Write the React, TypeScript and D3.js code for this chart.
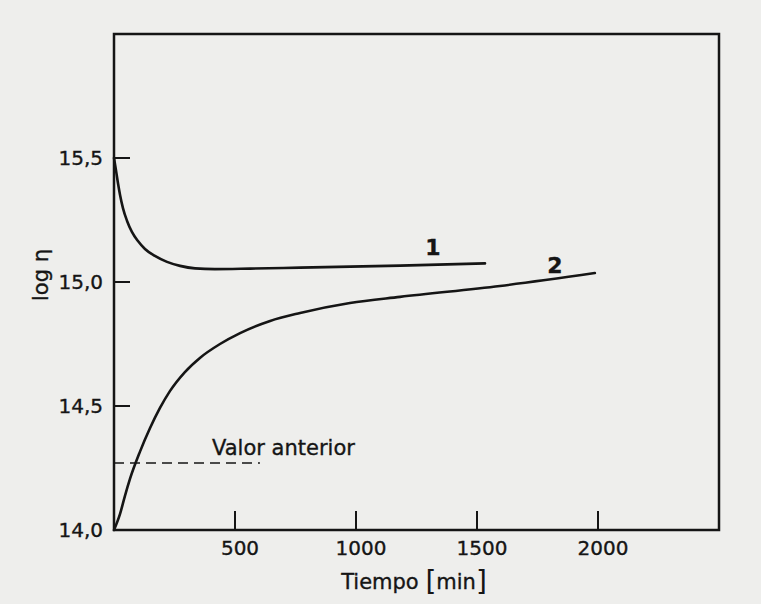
import { useRef, useEffect } from 'react';
import * as d3 from 'd3';

// Curva 1
const tiempo1 = [0, 8, 17, 25, 37, 54, 74, 99, 128, 169, 219, 273, 335, 417, 562, 769, 1182, 1533];
const logEta1 = [15.5, 15.452, 15.395, 15.351, 15.298, 15.246, 15.202, 15.165, 15.133, 15.105, 15.081, 15.065, 15.055, 15.052, 15.054, 15.058, 15.066, 15.075];

// Curva 2
const tiempo2 = [0, 25, 45, 66, 107, 149, 190, 231, 293, 355, 438, 521, 645, 769, 975, 1182, 1595, 1987];
const logEta2 = [14.0, 14.065, 14.137, 14.206, 14.315, 14.411, 14.492, 14.56, 14.637, 14.694, 14.75, 14.794, 14.843, 14.875, 14.915, 14.94, 14.984, 15.036];

// Valor anterior
const valorAnterior = 14.27;
const valorAnteriorHasta = 603;

const xTicks = [500, 1000, 1500, 2000];
const yTicks = [14.0, 14.5, 15.0, 15.5];

const curveLabels = [
  { label: '1', t: 1318, v: 15.109 },
  { label: '2', t: 1822, v: 15.036 },
];

const FONT = '"DejaVu Sans", sans-serif';

const ViscosityChart = () => {
  const svgRef = useRef<SVGSVGElement>(null);

  useEffect(() => {
    const width = 761;
    const height = 604;
    const left = 114;
    const right = 719;
    const top = 34;
    const bottom = 530;

    const svg = d3.select(svgRef.current);
    svg.selectAll('*').remove();
    svg.attr('viewBox', `0 0 ${width} ${height}`);

    svg.append('rect')
      .attr('width', width)
      .attr('height', height)
      .attr('fill', '#eeeeec');

    const x = d3.scaleLinear().domain([0, 2500]).range([left, right]);
    const y = d3.scaleLinear().domain([14, 16]).range([bottom, top]);

    const ink = '#151515';

    const txt = (sel: any, size: number) =>
      sel.attr('fill', ink)
        .attr('stroke', ink)
        .attr('stroke-width', 0.35)
        .style('font-family', FONT)
        .style('font-size', `${size}px`);

    // frame
    svg.append('rect')
      .attr('x', left)
      .attr('y', top)
      .attr('width', right - left)
      .attr('height', bottom - top)
      .attr('fill', 'none')
      .attr('stroke', ink)
      .attr('stroke-width', 2.5);

    // x ticks (inward)
    svg.append('g')
      .selectAll('line')
      .data(xTicks)
      .enter()
      .append('line')
      .attr('x1', d => x(d))
      .attr('x2', d => x(d))
      .attr('y1', bottom)
      .attr('y2', bottom - 19)
      .attr('stroke', ink)
      .attr('stroke-width', 2);

    txt(svg.append('g')
      .selectAll('text')
      .data(xTicks)
      .enter()
      .append('text')
      .attr('x', d => x(d) + 5)
      .attr('y', 555)
      .attr('text-anchor', 'middle'), 20)
      .text(d => d);

    // y ticks (inward)
    svg.append('g')
      .selectAll('line')
      .data(yTicks.filter(d => d > 14))
      .enter()
      .append('line')
      .attr('x1', left)
      .attr('x2', left + 16)
      .attr('y1', d => y(d))
      .attr('y2', d => y(d))
      .attr('stroke', ink)
      .attr('stroke-width', 2);

    txt(svg.append('g')
      .selectAll('text')
      .data(yTicks)
      .enter()
      .append('text')
      .attr('x', 103)
      .attr('y', d => y(d) + 7)
      .attr('text-anchor', 'end'), 20)
      .text(d => d.toFixed(1).replace('.', ','));

    // axis titles
    const xt = txt(svg.append('text')
      .attr('x', 414)
      .attr('y', 589)
      .attr('text-anchor', 'middle'), 21);
    xt.append('tspan').text('Tiempo ');
    xt.append('tspan').style('font-size', '28px').attr('stroke-width', 0).attr('dy', 2).text('[');
    xt.append('tspan').attr('dy', -2).text('min');
    xt.append('tspan').style('font-size', '28px').attr('stroke-width', 0).attr('dy', 2).text(']');

    txt(svg.append('text')
      .attr('transform', 'translate(48,275) rotate(-90)')
      .attr('text-anchor', 'middle'), 21)
      .text('log η');

    // curves
    const line = d3.line<[number, number]>()
      .x(d => x(d[0]))
      .y(d => y(d[1]))
      .curve(d3.curveMonotoneX);

    const serie1 = tiempo1.map((t, i) => [t, logEta1[i]] as [number, number]);
    const serie2 = tiempo2.map((t, i) => [t, logEta2[i]] as [number, number]);

    [serie1, serie2].forEach(s => {
      svg.append('path')
        .datum(s)
        .attr('d', line)
        .attr('fill', 'none')
        .attr('stroke', ink)
        .attr('stroke-width', 2.6)
        .attr('stroke-linecap', 'round');
    });

    // dashed reference
    svg.append('line')
      .attr('x1', x(0))
      .attr('x2', x(valorAnteriorHasta))
      .attr('y1', y(valorAnterior))
      .attr('y2', y(valorAnterior))
      .attr('stroke', ink)
      .attr('stroke-width', 1.6)
      .attr('stroke-dasharray', '10,6');

    txt(svg.append('text')
      .attr('x', 212)
      .attr('y', 455), 21)
      .text('Valor anterior');

    // curve labels
    txt(svg.append('g')
      .selectAll('text')
      .data(curveLabels)
      .enter()
      .append('text')
      .attr('x', d => x(d.t))
      .attr('y', d => y(d.v))
      .attr('text-anchor', 'middle'), 22)
      .style('font-weight', '600')
      .text(d => d.label);
  }, []);

  return (
    <svg
      ref={svgRef}
      width={761}
      height={604}
      style={{ position: 'absolute', left: 0, top: 0 }}
    />
  );
};

export default function App() {
  return <ViscosityChart />;
}
